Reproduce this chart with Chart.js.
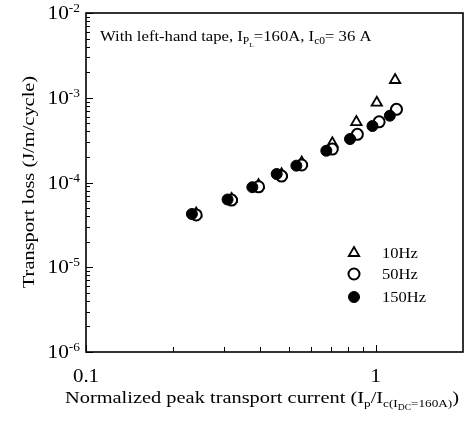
<!DOCTYPE html>
<html>
<head>
<meta charset="utf-8">
<script src="https://cdn.jsdelivr.net/npm/chart.js@4.4.1/dist/chart.umd.min.js"></script>
<style>
  html, body { margin: 0; padding: 0; background: #fff; }
  canvas { display: block; }
</style>
</head>
<body>
<canvas id="lossChart" width="475" height="421"></canvas>
<script>
// normalized peak current (Ip/Ic) and transport loss (J/m/cycle)
const current10 = [0.240, 0.318, 0.394, 0.473, 0.555, 0.708, 0.857, 1.008, 1.166];
const loss10 = [4.3e-5, 6.4e-5, 9.3e-5, 1.25e-4, 1.72e-4, 2.9e-4, 5.17e-4, 8.74e-4, 1.62e-3];
const current50 = [0.240, 0.318, 0.394, 0.473, 0.555, 0.708, 0.864, 1.027, 1.179];
const loss50 = [4.14e-5, 6.2e-5, 8.9e-5, 1.19e-4, 1.61e-4, 2.48e-4, 3.7e-4, 5.2e-4, 7.3e-4];
const current150 = [0.232, 0.308, 0.375, 0.455, 0.532, 0.675, 0.815, 0.974, 1.118];
const loss150 = [4.25e-5, 6.3e-5, 8.8e-5, 1.26e-4, 1.58e-4, 2.37e-4, 3.26e-4, 4.64e-4, 6.14e-4];

const seriesNames = ['10Hz', '50Hz', '150Hz'];
const xMajorTicks = [0.1, 1];
const xTickLabels = ['0.1', '1'];
const yMajorTicks = [1e-2, 1e-3, 1e-4, 1e-5, 1e-6];
const yTickExponents = ['-2', '-3', '-4', '-5', '-6'];

const SERIF = '"Liberation Serif", "Times New Roman", serif';

function toPoints(xs, ys) {
    return xs.map((x, i) => ({ x: x, y: ys[i] }));
}

// draw a line of text pieces with their own size and vertical shift (sub/superscripts)
// sx stretches the glyphs horizontally, the scanned original is a bit wide
function drawRich(ctx, parts, x, y, align, sx) {
    sx = sx || 1;
    let total = 0;
    parts.forEach(p => {
        ctx.font = p.size + 'px ' + SERIF;
        p.w = ctx.measureText(p.t).width * sx;
        total += p.w;
    });
    let cx = x;
    if (align === 'center') cx = x - total / 2;
    if (align === 'right') cx = x - total;
    ctx.textAlign = 'left';
    ctx.textBaseline = 'alphabetic';
    parts.forEach(p => {
        ctx.save();
        ctx.translate(cx, y + (p.dy || 0));
        ctx.scale(sx, 1);
        ctx.font = p.size + 'px ' + SERIF;
        ctx.fillText(p.t, 0, 0);
        ctx.restore();
        cx += p.w;
    });
}

const decorPlugin = {
    id: 'decor',
    afterDraw(chart) {
        const ctx = chart.ctx;
        const area = chart.chartArea;
        const xs = chart.scales.x;
        const ys = chart.scales.y;
        ctx.save();
        ctx.fillStyle = '#000';
        ctx.strokeStyle = '#000';

        // frame
        ctx.lineWidth = 1.6;
        ctx.strokeRect(area.left, area.top, area.right - area.left, area.bottom - area.top);

        // inward ticks on the left axis
        ctx.lineWidth = 1;
        ctx.beginPath();
        for (let e = -6; e <= -2; e++) {
            const py = Math.round(ys.getPixelForValue(Math.pow(10, e))) + 0.5;
            ctx.moveTo(area.left, py); ctx.lineTo(area.left + 7, py);
            if (e < -2) {
                for (let m = 2; m <= 9; m++) {
                    const my = Math.round(ys.getPixelForValue(m * Math.pow(10, e))) + 0.5;
                    ctx.moveTo(area.left, my); ctx.lineTo(area.left + 4, my);
                }
            }
        }
        // inward ticks on the bottom axis
        for (let m = 1; m <= 10; m++) {
            const px = Math.round(xs.getPixelForValue(m * 0.1)) + 0.5;
            const len = (m === 1 || m === 10) ? 7 : 5;
            ctx.moveTo(px, area.bottom); ctx.lineTo(px, area.bottom - len);
        }
        ctx.stroke();

        // y tick labels 10^n
        yMajorTicks.forEach((v, i) => {
            const py = ys.getPixelForValue(v);
            drawRich(ctx, [
                { t: '10', size: 19, dy: 0 },
                { t: yTickExponents[i], size: 12, dy: -7 }
            ], 80, py + 6, 'right', 1.12);
        });
        // x tick labels
        xMajorTicks.forEach((v, i) => {
            drawRich(ctx, [{ t: xTickLabels[i], size: 19 }], xs.getPixelForValue(v), 382, 'center', 1.1);
        });

        // axis titles
        drawRich(ctx, [
            { t: 'Normalized peak transport current (I', size: 17 },
            { t: 'p', size: 11, dy: 4 },
            { t: '/I', size: 17 },
            { t: 'c(I', size: 11, dy: 4 },
            { t: 'DC', size: 8, dy: 7 },
            { t: '=160A)', size: 11, dy: 4 },
            { t: ')', size: 17 }
        ], 262, 403, 'center', 1.2);

        ctx.save();
        ctx.translate(34, 182);
        ctx.rotate(-Math.PI / 2);
        drawRich(ctx, [{ t: 'Transport loss (J/m/cycle)', size: 17 }], 0, 0, 'center', 1.2);
        ctx.restore();

        // annotation
        drawRich(ctx, [
            { t: 'With left-hand tape, I', size: 14.5 },
            { t: 'P', size: 10, dy: 3 },
            { t: 'L', size: 6.5, dy: 6 },
            { t: '=160A, I', size: 14.5 },
            { t: 'c0', size: 10, dy: 3 },
            { t: '= 36 A', size: 14.5 }
        ], 100, 41, 'left', 1.15);

        // legend
        const rows = [253, 274, 297];
        chart.data.datasets.forEach((ds, i) => {
            ctx.fillStyle = ds.backgroundColor;
            ctx.strokeStyle = '#000';
            ctx.lineWidth = ds.borderWidth;
            ctx.beginPath();
            if (ds.pointStyle === 'triangle') {
                const r = ds.pointRadius;
                ctx.moveTo(354, rows[i] - r);
                ctx.lineTo(354 + r * 0.87, rows[i] + r * 0.5);
                ctx.lineTo(354 - r * 0.87, rows[i] + r * 0.5);
                ctx.closePath();
            } else {
                ctx.arc(354, rows[i], ds.pointRadius, 0, Math.PI * 2);
            }
            ctx.fill();
            ctx.stroke();
            ctx.fillStyle = '#000';
            drawRich(ctx, [{ t: seriesNames[i], size: 15 }], 382, rows[i] + 5, 'left', 1.1);
        });
        ctx.restore();
    }
};

new Chart(document.getElementById('lossChart'), {
    type: 'scatter',
    data: {
        datasets: [
            {
                label: seriesNames[0],
                data: toPoints(current10, loss10),
                pointStyle: 'triangle',
                pointRadius: 6,
                borderWidth: 1.8,
                borderColor: '#000',
                backgroundColor: '#fff',
                order: 3
            },
            {
                label: seriesNames[1],
                data: toPoints(current50, loss50),
                pointStyle: 'circle',
                pointRadius: 5.5,
                borderWidth: 2,
                borderColor: '#000',
                backgroundColor: '#fff',
                order: 2
            },
            {
                label: seriesNames[2],
                data: toPoints(current150, loss150),
                pointStyle: 'circle',
                pointRadius: 5.5,
                borderWidth: 1,
                borderColor: '#000',
                backgroundColor: '#000',
                order: 1
            }
        ]
    },
    options: {
        responsive: false,
        animation: false,
        devicePixelRatio: 1,
        layout: { padding: { left: 0, right: 12, top: 13, bottom: 0 } },
        plugins: {
            legend: { display: false },
            tooltip: { enabled: false }
        },
        scales: {
            x: {
                type: 'logarithmic',
                min: 0.1,
                max: 2,
                grid: { display: false },
                border: { display: false },
                ticks: { display: false },
                afterFit(scale) { scale.height = 69; }
            },
            y: {
                type: 'logarithmic',
                min: 1e-6,
                max: 1e-2,
                grid: { display: false },
                border: { display: false },
                ticks: { display: false },
                afterFit(scale) { scale.width = 86; }
            }
        }
    },
    plugins: [decorPlugin]
});
</script>
</body>
</html>
